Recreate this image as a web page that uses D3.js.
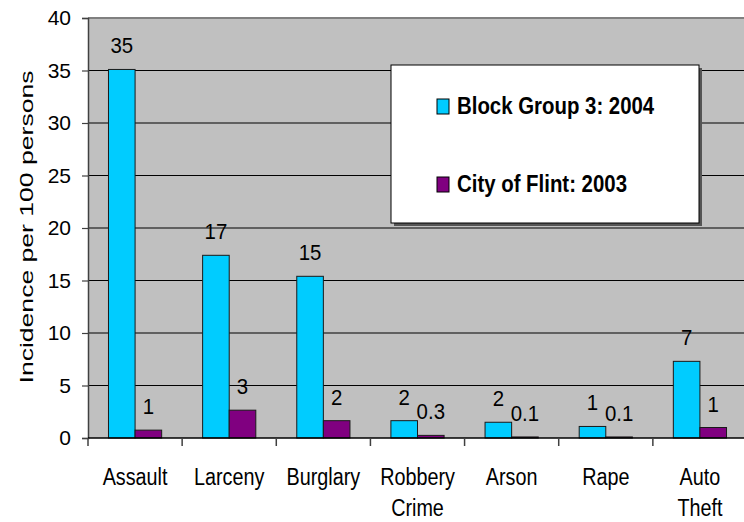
<!DOCTYPE html>
<html>
<head>
<meta charset="utf-8">
<style>
  body { margin: 0; background: #fff; }
  svg { display: block; overflow: hidden; font-family: "Liberation Sans", Arial, sans-serif; }
</style>
</head>
<body>
<svg width="744" height="522"></svg>
<script src="https://cdn.jsdelivr.net/npm/d3@7"></script>
<script>

    // values
    var categories = ["Assault", "Larceny", "Burglary", "Robbery\nCrime", "Arson", "Rape", "Auto\nTheft"];
    var seriesNames = ["Block Group 3: 2004", "City of Flint: 2003"];
    var blockGroup = [35.1, 17.4, 15.4, 1.65, 1.5, 1.1, 7.3];
    var cityFlint = [0.75, 2.65, 1.65, 0.25, 0.1, 0.1, 1.0];
    var blockLabels = ["35", "17", "15", "2", "2", "1", "7"];
    var cityLabels = ["1", "3", "2", "0.3", "0.1", "0.1", "1"];
    var yTicks = [0, 5, 10, 15, 20, 25, 30, 35, 40];

    var colors = ["#00CCFF", "#800080"];

    var svg = d3.select("svg"),
        width = +svg.attr("width"),
        height = +svg.attr("height");

    // plot box (right edge runs past the window, as in the original)
    var pLeft = 88, pRight = 747, pTop = 18, pBottom = 438;

    var x0 = d3.scaleBand()
        .domain(categories)
        .range([pLeft, pRight])
        .padding(0);

    var x1 = d3.scaleBand()
        .domain(seriesNames)
        .range([0, x0.bandwidth()])
        .paddingInner(0)
        .paddingOuter(0.77);

    var y = d3.scaleLinear()
        .domain([0, 40])
        .range([pBottom, pTop]);

    var rows = categories.map(function(c, i) {
        return {
            cat: c,
            vals: [
                {s: seriesNames[0], v: blockGroup[i], label: blockLabels[i], k: 0},
                {s: seriesNames[1], v: cityFlint[i], label: cityLabels[i], k: 1}
            ]
        };
    });

    // plot area
    svg.append("rect")
        .attr("x", pLeft)
        .attr("y", pTop)
        .attr("width", pRight - pLeft)
        .attr("height", pBottom - pTop)
        .attr("fill", "#C0C0C0");

    svg.append("line")
        .attr("x1", pLeft).attr("x2", pRight)
        .attr("y1", pTop).attr("y2", pTop)
        .attr("stroke", "#808080")
        .attr("stroke-width", 2);

    // gridlines
    svg.append("g")
        .selectAll("line")
        .data(yTicks.filter(function(d) { return d > 0 && d < 40; }))
        .enter().append("line")
        .attr("x1", pLeft).attr("x2", pRight)
        .attr("y1", function(d) { return y(d); })
        .attr("y2", function(d) { return y(d); })
        .attr("stroke", "#000")
        .attr("stroke-width", 1.2);

    // bars
    var groups = svg.append("g")
        .selectAll("g")
        .data(rows)
        .enter().append("g")
        .attr("transform", function(d) { return "translate(" + x0(d.cat) + ",0)"; });

    groups.selectAll("rect")
        .data(function(d) { return d.vals; })
        .enter().append("rect")
        .attr("x", function(d) { return x1(d.s); })
        .attr("y", function(d) { return y(d.v); })
        .attr("width", x1.bandwidth())
        .attr("height", function(d) { return pBottom - y(d.v); })
        .attr("fill", function(d) { return colors[d.k]; })
        .attr("stroke", "#1a1a1a")
        .attr("stroke-width", 1);

    groups.selectAll("text")
        .data(function(d) { return d.vals; })
        .enter().append("text")
        .attr("transform", function(d) {
            return "translate(" + (x1(d.s) + x1.bandwidth() / 2) + "," + (y(d.v) - 16) + ") scale(0.95,1)";
        })
        .attr("text-anchor", "middle")
        .attr("font-size", 21.5)
        .attr("fill", "#000")
        .text(function(d) { return d.label; });

    // y axis
    var yAxis = svg.append("g")
        .attr("transform", "translate(" + pLeft + ",0)")
        .call(d3.axisLeft(y).tickValues(yTicks).tickSize(6).tickPadding(11));

    yAxis.select(".domain").attr("stroke", "#404040").attr("stroke-width", 1.5);
    yAxis.selectAll(".tick line").attr("stroke", "#404040").attr("stroke-width", 1.2);
    yAxis.selectAll("text")
        .attr("font-size", 21)
        .attr("font-family", "Liberation Sans, Arial, sans-serif")
        .attr("fill", "#000");

    // x axis
    svg.append("line")
        .attr("x1", pLeft).attr("x2", pRight)
        .attr("y1", pBottom).attr("y2", pBottom)
        .attr("stroke", "#000")
        .attr("stroke-width", 1.5);

    svg.append("g")
        .selectAll("line")
        .data(categories)
        .enter().append("line")
        .attr("x1", function(d) { return x0(d); })
        .attr("x2", function(d) { return x0(d); })
        .attr("y1", pBottom)
        .attr("y2", pBottom + 8)
        .attr("stroke", "#404040")
        .attr("stroke-width", 1.5);

    var xLabels = svg.append("g")
        .selectAll("text")
        .data(categories)
        .enter().append("text")
        .attr("transform", function(d) {
            return "translate(" + (x0(d) + x0.bandwidth() / 2) + "," + 485 + ") scale(0.86,1)";
        })
        .attr("text-anchor", "middle")
        .attr("font-size", 23)
        .attr("fill", "#000");

    xLabels.selectAll("tspan")
        .data(function(d) { return d.split("\n"); })
        .enter().append("tspan")
        .attr("x", 0)
        .attr("dy", function(d, i) { return i === 0 ? 0 : 31; })
        .text(function(d) { return d; });

    // y title
    svg.append("text")
        .attr("transform", "translate(33,227) rotate(-90)")
        .attr("text-anchor", "middle")
        .attr("font-size", 19)
        .attr("textLength", 313)
        .attr("lengthAdjust", "spacingAndGlyphs")
        .attr("fill", "#000")
        .text("Incidence per 100 persons");

    // legend
    var legend = svg.append("g");

    legend.append("rect")
        .attr("x", 394).attr("y", 68)
        .attr("width", 308).attr("height", 158)
        .attr("fill", "#555");

    legend.append("rect")
        .attr("x", 391).attr("y", 65)
        .attr("width", 308).attr("height", 158)
        .attr("fill", "#fff")
        .attr("stroke", "#000")
        .attr("stroke-width", 1);

    var items = legend.selectAll("g.item")
        .data(seriesNames)
        .enter().append("g")
        .attr("class", "item")
        .attr("transform", function(d, i) { return "translate(437," + (114 + i * 78) + ")"; });

    items.append("rect")
        .attr("x", 0)
        .attr("y", -15)
        .attr("width", 12)
        .attr("height", 15)
        .attr("fill", function(d, i) { return colors[i]; })
        .attr("stroke", "#000")
        .attr("stroke-width", 1);

    items.append("text")
        .attr("transform", "translate(20,0) scale(0.85,1)")
        .attr("font-size", 24)
        .attr("font-weight", "bold")
        .attr("fill", "#000")
        .text(function(d) { return d; });

</script>
</body>
</html>
